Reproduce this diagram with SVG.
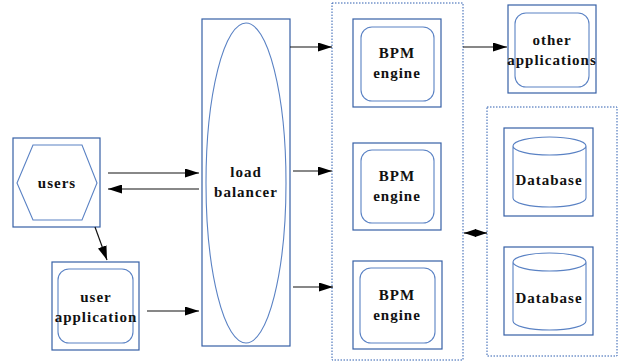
<svg xmlns="http://www.w3.org/2000/svg" width="623" height="364" viewBox="0 0 623 364">
<defs>
<style>
.o{fill:#fff;stroke:#3660a6;stroke-width:1.2}
.i{fill:none;stroke:#5a82c4;stroke-width:1.1}
.d{fill:none;stroke:#2f5fb0;stroke-width:1;stroke-dasharray:1.5 1.5}
.t{font-family:"Liberation Serif","Times New Roman",serif;font-weight:bold;font-size:15px;letter-spacing:1px;fill:#111;text-anchor:middle}
.k{stroke:#111;stroke-width:1.2;fill:none}
.g{stroke:#888;stroke-width:2;fill:none}
</style>
<marker id="a" viewBox="0 0 14 9" refX="14" refY="4.5" markerWidth="14" markerHeight="9" markerUnits="userSpaceOnUse" orient="auto">
<path d="M0,0L14,4.5L0,9z" fill="#000"/>
</marker>
<marker id="as" viewBox="0 0 12 8" refX="0" refY="4" markerWidth="12" markerHeight="8" markerUnits="userSpaceOnUse" orient="auto">
<path d="M12,0L0,4L12,8z" fill="#000"/>
</marker>
<marker id="ae" viewBox="0 0 12 8" refX="12" refY="4" markerWidth="12" markerHeight="8" markerUnits="userSpaceOnUse" orient="auto">
<path d="M0,0L12,4L0,8z" fill="#000"/>
</marker>
</defs>
<rect width="623" height="364" fill="#fff"/>
<rect class="d" x="332" y="3" width="131" height="357"/>
<rect class="d" x="487" y="107" width="130" height="249"/>
<g id="users">
<rect class="o" x="13" y="138" width="87" height="89"/>
<polygon class="i" points="17,183 33,145 82,145 97,183 82,220 33,220"/>
<text class="t" x="57" y="188">users</text>
</g>
<g id="user-application">
<rect class="o" x="52" y="262" width="87" height="88"/>
<rect class="i" x="58" y="269" width="75" height="74" rx="11"/>
<text class="t" x="96" y="302">user</text>
<text class="t" x="96" y="322">application</text>
</g>
<g id="load-balancer">
<rect class="o" x="202" y="19" width="88" height="327"/>
<ellipse class="i" cx="246" cy="183" rx="40" ry="160"/>
<text class="t" x="246" y="177">load</text>
<text class="t" x="246" y="197">balancer</text>
</g>
<g id="bpm1">
<rect class="o" x="353" y="19" width="88" height="88"/>
<rect class="i" x="361" y="27" width="73" height="74" rx="11"/>
<text class="t" x="397" y="58">BPM</text>
<text class="t" x="397" y="78">engine</text>
</g>
<g id="bpm2">
<rect class="o" x="353" y="143" width="88" height="87"/>
<rect class="i" x="361" y="150" width="73" height="73" rx="11"/>
<text class="t" x="397" y="181">BPM</text>
<text class="t" x="397" y="201">engine</text>
</g>
<g id="bpm3">
<rect class="o" x="353" y="261" width="89" height="88"/>
<rect class="i" x="360" y="268" width="75" height="75" rx="11"/>
<text class="t" x="397" y="300">BPM</text>
<text class="t" x="397" y="320">engine</text>
</g>
<g id="other-applications">
<rect class="o" x="508" y="5" width="88" height="88"/>
<rect class="i" x="515" y="13" width="74" height="74" rx="11"/>
<text class="t" x="552" y="45">other</text>
<text class="t" x="552" y="65">applications</text>
</g>
<g id="db1">
<rect class="o" x="504" y="128" width="89" height="88"/>
<path class="i" d="M513,146 A36.5,9 0 0 1 586,146 A36.5,9 0 0 1 513,146 M513,146 L513,198 A36.5,9 0 0 0 586,198 L586,146"/>
<text class="t" x="549" y="185">Database</text>
</g>
<g id="db2">
<rect class="o" x="504" y="247" width="89" height="88"/>
<path class="i" d="M513,262 A36.5,9 0 0 1 586,262 A36.5,9 0 0 1 513,262 M513,262 L513,321 A36.5,9 0 0 0 586,321 L586,262"/>
<text class="t" x="549" y="303">Database</text>
</g>
<g id="connectors">
<line class="g" x1="108" y1="173" x2="199" y2="173" marker-end="url(#a)"/>
<line class="g" x1="199" y1="189" x2="108" y2="189" marker-end="url(#a)"/>
<line class="k" x1="95" y1="227" x2="107" y2="260" marker-end="url(#a)"/>
<line class="k" x1="147" y1="311" x2="199" y2="311" marker-end="url(#a)"/>
<line class="k" x1="290" y1="47" x2="332" y2="47" marker-end="url(#a)"/>
<line class="g" x1="293" y1="171" x2="332" y2="171" marker-end="url(#a)"/>
<line class="k" x1="293" y1="287" x2="333" y2="287" marker-end="url(#a)"/>
<line class="k" x1="463" y1="47" x2="507" y2="47" marker-end="url(#a)"/>
<line class="k" x1="464" y1="233" x2="487" y2="233" marker-start="url(#as)" marker-end="url(#ae)"/>
</g>
</svg>
